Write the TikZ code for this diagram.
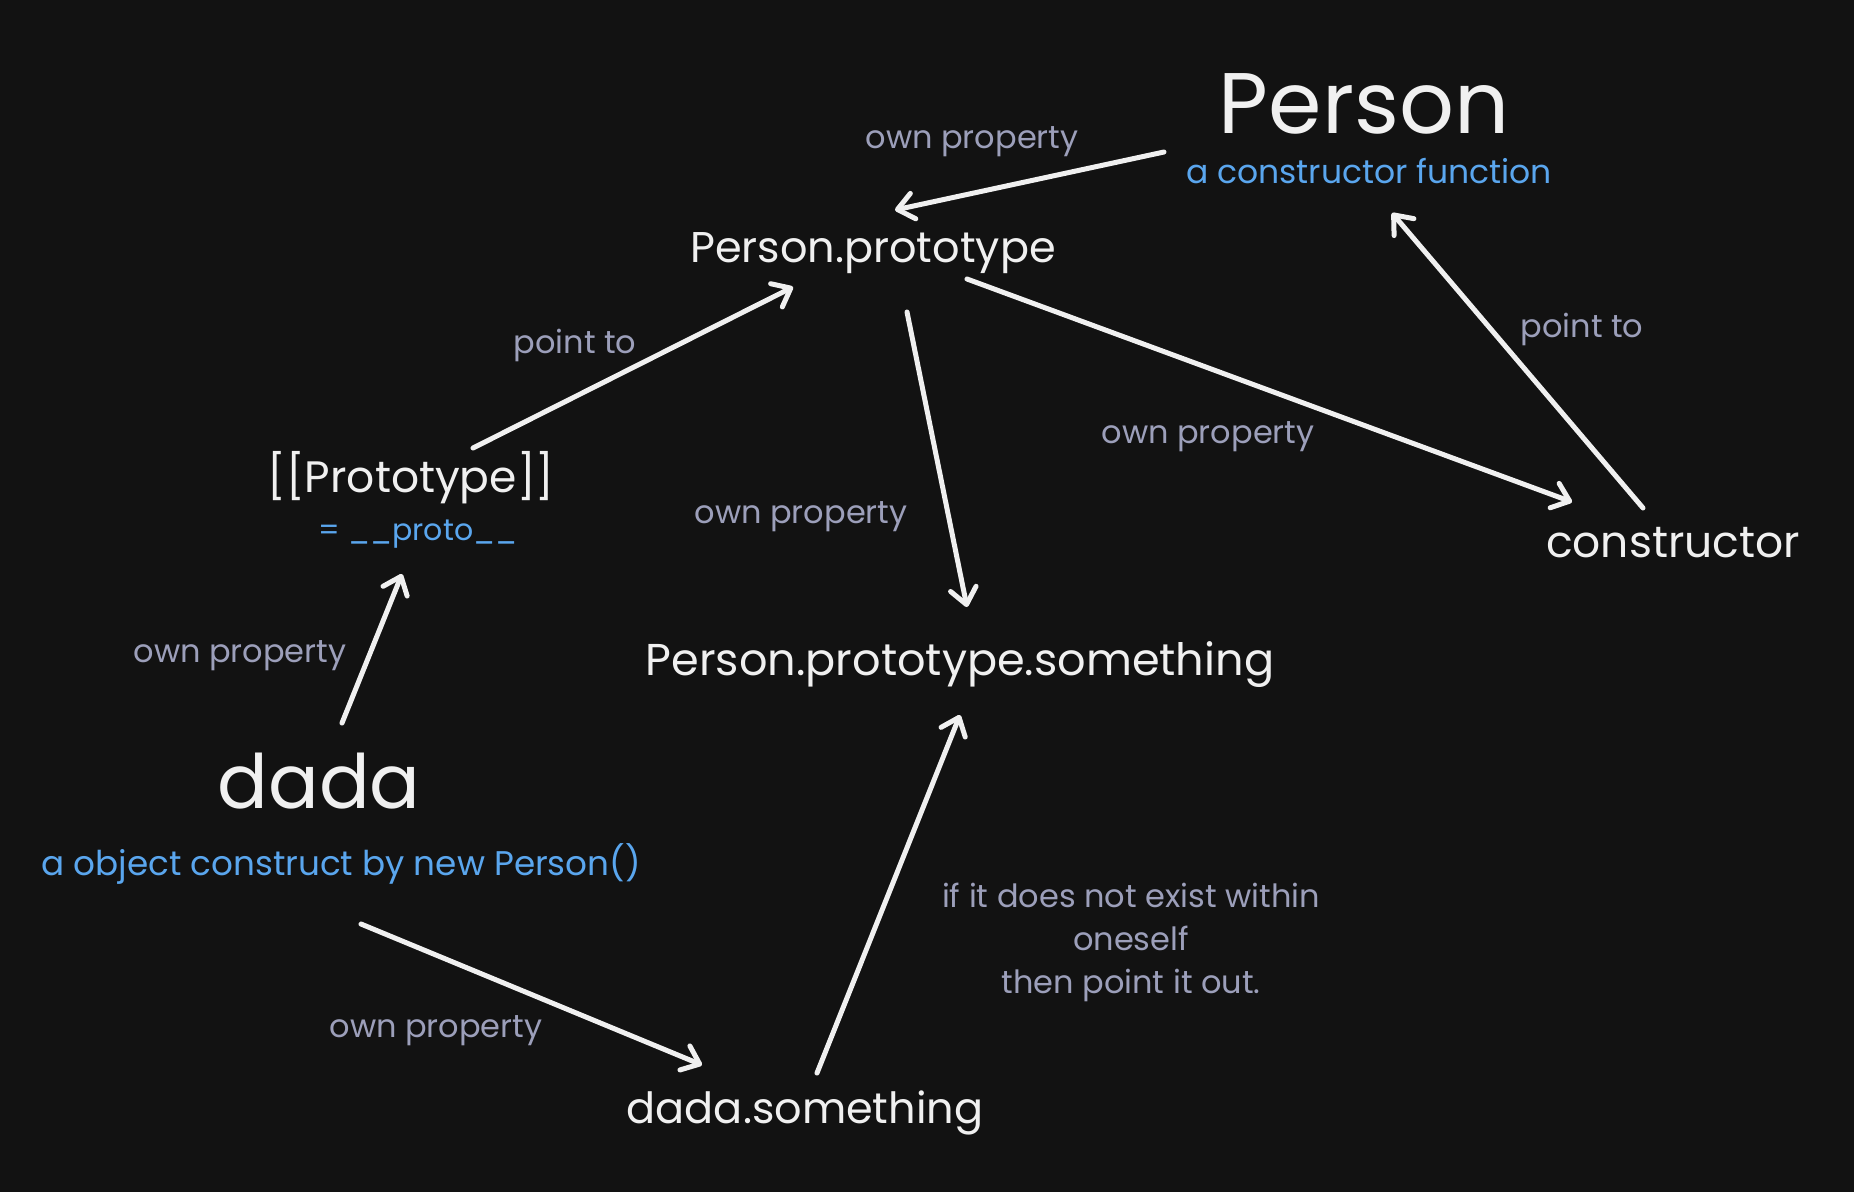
\documentclass[tikz,border=0pt]{standalone}
\usepackage{fontspec}
\setmainfont{Poppins}
\usetikzlibrary{arrows.meta}
\definecolor{bg}{HTML}{121212}
\definecolor{fg}{HTML}{F0F0F0}
\definecolor{lbl}{HTML}{9C9FBA}
\definecolor{blu}{HTML}{5AA6EE}
\tikzset{
  body/.style={text=fg,font=\fontsize{44}{52}\selectfont,anchor=base,inner sep=0pt},
  big/.style={text=fg,font=\fontsize{86}{100}\selectfont,anchor=base,inner sep=0pt},
  lab/.style={text=lbl,font=\fontsize{32}{40}\selectfont,anchor=base,inner sep=0pt},
  sub/.style={text=blu,font=\fontsize{33}{40}\selectfont,anchor=base,inner sep=0pt},
  link/.style={draw=fg,line width=5pt,line cap=round,
    -{Straight Barb[length=16pt,width=26pt,round]}},
}
\begin{document}
\begin{tikzpicture}[x=1pt,y=-1pt]
\fill[bg] (0,0) rectangle (1854,1192);
\useasboundingbox (0,0) rectangle (1854,1192);

% main texts
\node[big]  (person)  at (1364,133) {Person};
\node[sub]  (personsub) at (1369,183) {a constructor function};
\node[body,font=\fontsize{43}{52}\selectfont] (proto) at (873,262) {Person.prototype};
\node[body] (ctor)    at (1673,557) {constructor};
\node[body] (slot)    at (411,492) {[[Prototype]]};
\node[sub,font=\fontsize{30}{40}\selectfont] (slotsub) at (418,540) {= \_\_proto\_\_};
\node[body,font=\fontsize{44.6}{52}\selectfont] (pps) at (960,675) {Person.prototype.something};
\node[big,font=\fontsize{75}{90}\selectfont] (dada) at (319,808) {dada};
\node[sub,font=\fontsize{34.2}{40}\selectfont] (dadasub) at (341,875) {a object construct by new Person()};
\node[body,font=\fontsize{43}{52}\selectfont] (ds) at (805,1123) {dada.something};

% labels
\node[lab] (l1) at (972,148) {own property};
\node[lab] (l2) at (575,353) {point to};
\node[lab] (l3) at (801,523) {own property};
\node[lab] (l4) at (1208,443) {own property};
\node[lab] (l5) at (1582,337) {point to};
\node[lab] (l6) at (240,662) {own property};
\node[lab] (l7) at (436,1037) {own property};
\node[lab] (n1) at (1131,907) {if it does not exist within};
\node[lab] (n2) at (1131,950) {oneself};
\node[lab] (n3) at (1131,993) {then point it out.};

% connector end points
\coordinate (a1s) at (1164,152); \coordinate (a1e) at (895,210);
\coordinate (a2s) at (473,448);  \coordinate (a2e) at (793,287);
\coordinate (a3s) at (907,312);  \coordinate (a3e) at (967,607);
\coordinate (a4s) at (967,279);  \coordinate (a4e) at (1572,502);
\coordinate (a5s) at (1643,508); \coordinate (a5e) at (1392,213);
\coordinate (a6s) at (342,723);  \coordinate (a6e) at (402,574);
\coordinate (a7s) at (361,924);  \coordinate (a7e) at (702,1065);
\coordinate (a8s) at (817,1073); \coordinate (a8e) at (960,715);

\draw[link] (a1s) -- (a1e);
\draw[link] (a2s) -- (a2e);
\draw[link] (a3s) -- (a3e);
\draw[link] (a4s) -- (a4e);
\draw[link] (a5s) -- (a5e);
\draw[link] (a6s) -- (a6e);
\draw[link] (a7s) -- (a7e);
\draw[link] (a8s) -- (a8e);
\end{tikzpicture}
\end{document}
